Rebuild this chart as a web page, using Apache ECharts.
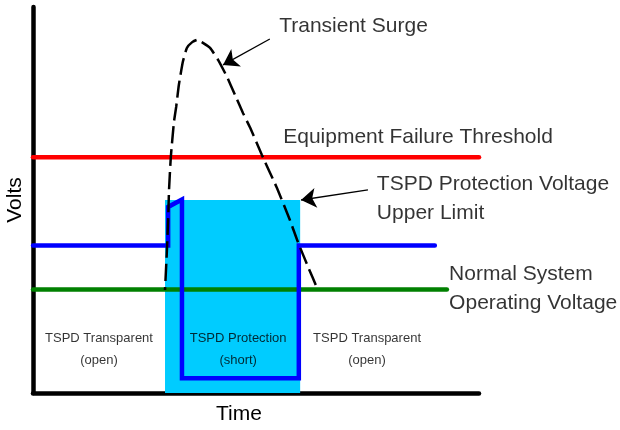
<!DOCTYPE html>
<html>
<head>
<meta charset="utf-8">
<script src="https://cdn.jsdelivr.net/npm/echarts@6/dist/echarts.min.js"></script>
<style>html,body{margin:0;padding:0;background:#fff;}#c{width:620px;height:430px;}</style>
</head>
<body>
<div id="c"></div>
<script>
// Axis extents (arbitrary units)
const timeRange = [0, 100];
const voltRange = [0, 100];

// Voltage levels
const failureLevel = 61.1;
const tspdLimitLevel = 38.2;
const normalLevel = 26.8;
const failureEnd = 100;
const normalEnd = 92.8;

// Transient surge (dashed)
const surgeTime  = [29.6, 30.0, 30.3, 30.5, 30.9, 31.6, 32.1, 32.7, 33.6, 34.5, 35.7, 36.8, 38.1, 39.7, 41.5, 43.5, 45.3, 47.1, 48.7, 51.3, 54.7, 57.6, 59.4, 61.7, 63.7];
const surgeVolts = [26.7, 36.3, 44.8, 52.6, 61.1, 70.2, 74.1, 79.8, 85.8, 89.4, 90.9, 91.5, 90.7, 89.4, 86.3, 81.9, 77.2, 72.5, 68.7, 61.7, 53.1, 44.8, 39.1, 32.6, 27.2];

// TSPD voltage trace
const tspdTime  = [0, 30.3, 30.3, 33.4, 33.4, 59.6, 59.6, 90.1];
const tspdVolts = [38.2, 38.2, 48.2, 50.1, 3.8, 3.8, 38.2, 38.2];

// Protection zone
const zoneTime = [29.6, 59.9];
const zoneTop = 50.0;

// Annotations
const labelTexts = ['Transient Surge', 'Equipment Failure Threshold', 'TSPD Protection Voltage\nUpper Limit', 'Normal System\nOperating Voltage'];
const labelTime  = [55.2, 56.1, 77.1, 93.3];
const labelVolts = [94.9, 66.3, 50.4, 27.1];

const stateTexts = ['TSPD Transparent\n(open)', 'TSPD Protection\n(short)', 'TSPD Transparent\n(open)'];
const stateTime  = [14.8, 46.0, 74.9];
const stateVolts = [11.4, 11.4, 11.4];

const arrowFrom = [[53.1, 91.7], [75.1, 52.6]];
const arrowTo   = [[42.6, 85.0], [60.1, 50.0]];

const FONT = '"Liberation Sans", Arial, Helvetica, sans-serif';
const TXT = '#000000';

const zip = (a, b) => a.map((v, i) => [v, b[i]]);

const chart = echarts.init(document.getElementById('c'), null, {renderer: 'canvas'});
chart.setOption({
  animation: false,
  backgroundColor: '#ffffff',
  grid: {left: 33, right: 141, top: 7, bottom: 37, containLabel: false, outerBoundsMode: 'none'},
  xAxis: {
    type: 'value', min: timeRange[0], max: timeRange[1],
    axisLine: {show: true, lineStyle: {color: '#000', width: 4.5, cap: 'round'}},
    axisTick: {show: false}, axisLabel: {show: false}, splitLine: {show: false}
  },
  yAxis: {
    type: 'value', min: voltRange[0], max: voltRange[1],
    name: 'Volts', nameLocation: 'middle', nameRotate: 90, nameGap: 7,
    nameTextStyle: {fontFamily: FONT, fontSize: 21, color: TXT},
    axisLine: {show: true, lineStyle: {color: '#000', width: 4.5, cap: 'round'}},
    axisTick: {show: false}, axisLabel: {show: false}, splitLine: {show: false}
  },
  graphic: [{
    type: 'text', left: 216, top: 404,
    style: {text: 'Time', fontFamily: FONT, fontSize: 21, fill: TXT}
  }],
  series: [
    {
      type: 'line', name: 'zone', data: [], z: 1,
      markArea: {
        silent: true,
        itemStyle: {color: '#00CCFF'},
        data: [[{coord: [zoneTime[0], zoneTop]}, {coord: [zoneTime[1], voltRange[0]]}]]
      }
    },
    {
      type: 'line', name: 'failure', symbol: 'none', z: 3,
      data: [[timeRange[0], failureLevel], [failureEnd, failureLevel]],
      lineStyle: {color: '#FF0000', width: 4.5, cap: 'round'}
    },
    {
      type: 'line', name: 'normal', symbol: 'none', z: 3,
      data: [[timeRange[0], normalLevel], [normalEnd, normalLevel]],
      lineStyle: {color: '#008000', width: 4.5, cap: 'round'}
    },
    {
      type: 'line', name: 'tspd', symbol: 'none', z: 4,
      data: zip(tspdTime, tspdVolts),
      lineStyle: {color: '#0000FF', width: 4.5, cap: 'round', join: 'miter'}
    },
    {
      type: 'line', name: 'surge', symbol: 'none', z: 5, smooth: 0.15,
      data: zip(surgeTime, surgeVolts),
      lineStyle: {color: '#000', width: 2.5, type: [17, 6], dashOffset: 14}
    },
    {
      type: 'lines', coordinateSystem: 'cartesian2d', z: 6,
      symbol: ['none', 'arrow'], symbolSize: [9, 15],
      lineStyle: {color: '#000', width: 1.3, opacity: 1, curveness: 0},
      data: arrowFrom.map((f, i) => ({coords: [f, arrowTo[i]]}))
    },
    {
      type: 'scatter', symbolSize: 0, z: 7, silent: true,
      data: labelTexts.map((t, i) => ({value: [labelTime[i], labelVolts[i]], name: t})),
      label: {
        show: true, position: [0, 0], align: 'left', verticalAlign: 'middle',
        formatter: p => p.name, fontFamily: FONT, fontSize: 21, lineHeight: 29, color: TXT
      }
    },
    {
      type: 'scatter', symbolSize: 0, z: 7, silent: true,
      data: stateTexts.map((t, i) => ({value: [stateTime[i], stateVolts[i]], name: t})),
      label: {
        show: true, position: [0, 0], align: 'center', verticalAlign: 'middle',
        formatter: p => p.name, fontFamily: FONT, fontSize: 13, lineHeight: 22, color: TXT
      }
    }
  ]
});
</script>
</body>
</html>
